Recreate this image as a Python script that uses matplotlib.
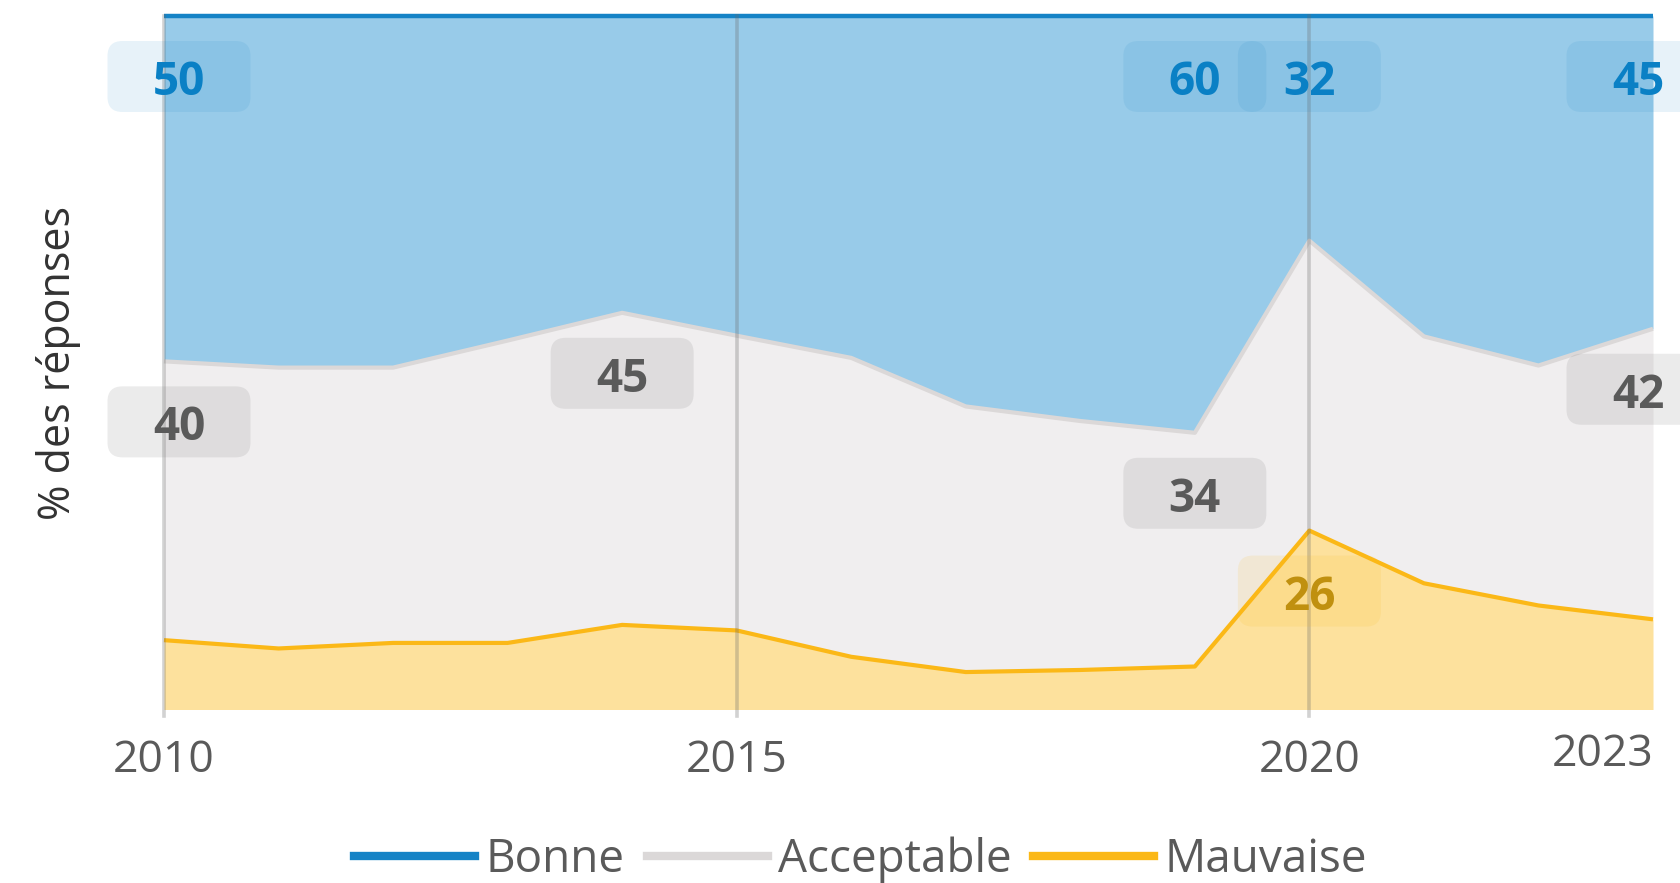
import numpy as np
import matplotlib
matplotlib.use('Agg')
import matplotlib.pyplot as plt
import matplotlib.transforms as mtransforms
from matplotlib.patches import FancyBboxPatch

plt.rcParams['font.family'] = ['Open Sans', 'DejaVu Sans']

###################
#### Data ####
###################

years = [2010, 2011, 2012, 2013, 2014, 2015, 2016, 2017, 2018, 2019, 2020, 2021, 2022, 2023]
mauvaise = [10.0, 8.8, 9.6, 9.6, 12.2, 11.4, 7.6, 5.4, 5.7, 6.2, 25.8, 18.2, 15.0, 13.0]
acceptable = [40.2, 40.5, 39.7, 43.6, 45.0, 42.5, 43.1, 38.3, 35.9, 33.7, 41.8, 35.6, 34.6, 41.9]
bonne = [49.8, 50.7, 50.7, 46.8, 42.8, 46.1, 49.3, 56.3, 58.4, 60.1, 32.4, 46.2, 50.4, 45.1]

series_names = ['Bonne', 'Acceptable', 'Mauvaise']
label_years = {
    'Bonne': [2010, 2019, 2020, 2023],
    'Acceptable': [2010, 2014, 2019, 2023],
    'Mauvaise': [2020],
}
xticks = [2010, 2015, 2020, 2023]
grid_years = [2010, 2015, 2020]

line_colors = {'Bonne': '#1583c6', 'Acceptable': '#dbd8d8', 'Mauvaise': '#fbb817'}
fill_colors = {'Bonne': '#98cbe9', 'Acceptable': '#f0eeef', 'Mauvaise': '#fde19d'}
text_colors = {'Bonne': '#0a80c5', 'Acceptable': '#5a5a5a', 'Mauvaise': '#c0900f'}
box_colors = {'Bonne': ('#1583c6', 0.10), 'Acceptable': ('#7a7a7a', 0.15), 'Mauvaise': ('#fbb817', 0.12)}

##################
#### Plot ####
##################

x = np.array(years)
m = np.array(mauvaise)
a = np.array(acceptable)
b = np.array(bonne)
tops = {'Mauvaise': m, 'Acceptable': m + a, 'Bonne': m + a + b}
bottoms = {'Mauvaise': np.zeros_like(m), 'Acceptable': m, 'Bonne': m + a}
values = {'Mauvaise': m, 'Acceptable': a, 'Bonne': b}

fig = plt.figure(figsize=(16.81, 8.83), dpi=100)
ax = fig.add_axes([164/1681, 1-709.5/883, (1653-164)/1681, (709.5-16)/883])

for name in ['Mauvaise', 'Acceptable', 'Bonne']:
    ax.fill_between(x, bottoms[name], tops[name], color=fill_colors[name], lw=0, zorder=1)
for name in ['Mauvaise', 'Acceptable', 'Bonne']:
    ax.plot(x, tops[name], color=line_colors[name], lw=3 if name != 'Bonne' else 3.2,
            solid_capstyle='butt', zorder=2, clip_on=False)

for gy in grid_years:
    ax.axvline(gy, color='#6a6a6a', alpha=0.3, lw=2.6, zorder=3, ymin=-0.01, clip_on=False)

ax.set_xlim(years[0], years[-1])
ax.set_ylim(0, 100)
ax.set_yticks([])
for s in ax.spines.values():
    s.set_visible(False)

ax.set_xticks(xticks)
ax.set_xticklabels([str(t) for t in xticks], fontsize=32, color='#5a5a5a')
ax.tick_params(axis='x', length=0, pad=21)
last = ax.get_xticklabels()[-1]
last.set_ha('right')
last.set_y(0.009)

ax.set_ylabel('% des réponses', fontsize=31, color='#333333')
ax.yaxis.set_label_coords(-0.056, 0.5)

# value labels with rounded boxes
bw, bh, br = 1.43, 0.71, 0.15
for name in series_names:
    for yr in label_years[name]:
        i = years.index(yr)
        dx = 0.0
        if yr == years[0]:
            dx = 0.15
        elif yr == years[-1]:
            dx = -0.15
        trans = fig.dpi_scale_trans + mtransforms.ScaledTranslation(x[i], tops[name][i], ax.transData)
        col, alp = box_colors[name]
        box = FancyBboxPatch((dx - bw/2, -0.605 - bh/2), bw, bh,
                             boxstyle=f'round,pad=0,rounding_size={br}',
                             transform=trans, facecolor=col, alpha=alp, lw=0,
                             zorder=4, clip_on=False)
        ax.add_patch(box)
        ax.text(dx, -0.61, f'{values[name][i]:.0f}', transform=trans, ha='center', va='center_baseline',
                fontsize=33, fontweight='bold', color=text_colors[name], zorder=5)

# legend
handles = [plt.Line2D([], [], color=line_colors[n], lw=6) for n in series_names]
fig.legend(handles, series_names, loc='center', bbox_to_anchor=(0.512, 0.026), ncol=3,
           frameon=False, fontsize=33, labelcolor='#5a5a5a', handlelength=2.64,
           handletextpad=0.22, columnspacing=0.48)

fig.savefig('out.png', dpi=100)
plt.close()
